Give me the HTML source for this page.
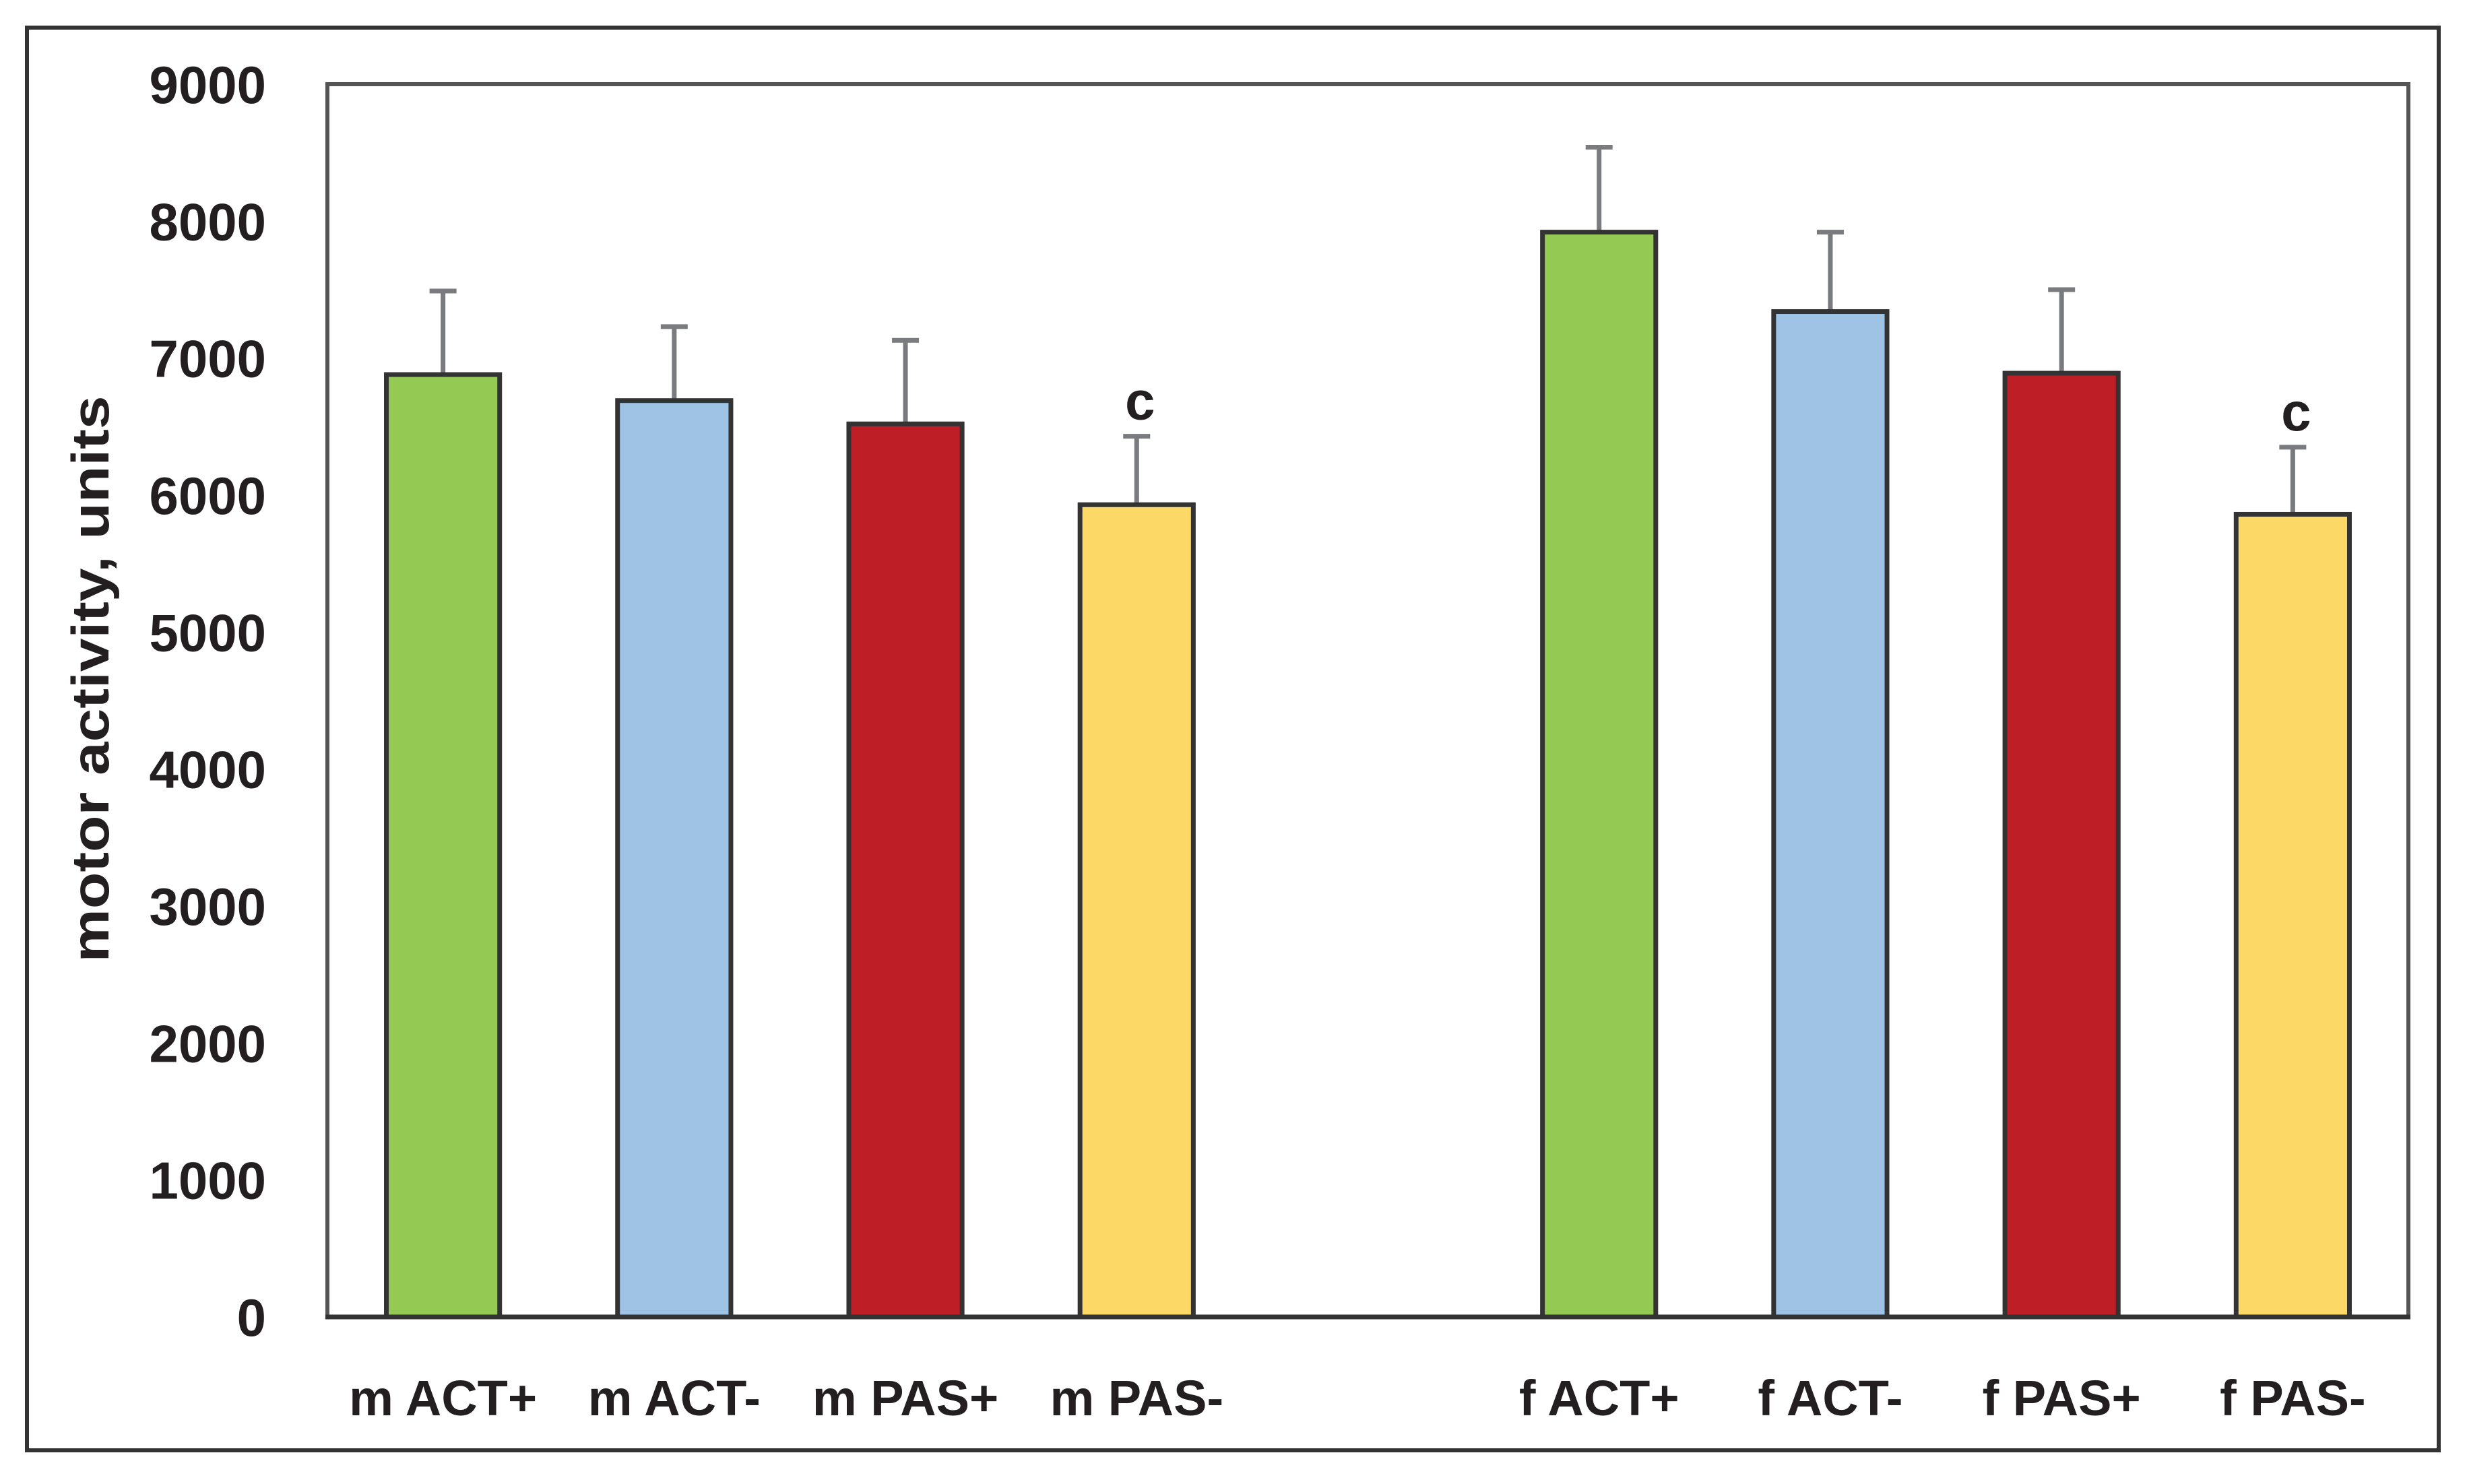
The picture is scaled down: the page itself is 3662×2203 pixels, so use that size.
<!DOCTYPE html>
<html><head><meta charset="utf-8"><style>
html,body{margin:0;padding:0;background:#fff;}
svg{display:block;font-family:"Liberation Sans",sans-serif;font-weight:bold;}
</style></head><body>
<svg id="chart" width="3662" height="2203" viewBox="0 0 3662 2203" xmlns="http://www.w3.org/2000/svg">
<rect x="40" y="41" width="3580" height="2112" fill="#fff" stroke="#333" stroke-width="6"/>
<rect x="486" y="125" width="3089" height="1830" fill="#fff" stroke="#555" stroke-width="6"/>
<g id="bars"></g>
<line x1="483" y1="1955" x2="3578" y2="1955" stroke="#333" stroke-width="7"/>
<g id="yticks"></g>
<g id="xlabels"></g>
<text transform="translate(161,1008) rotate(-90)" text-anchor="middle" font-size="78" fill="#231f20" textLength="841" lengthAdjust="spacingAndGlyphs">motor activity, units</text>
</svg>
<script>
const categories = ["m ACT+","m ACT-","m PAS+","m PAS-","","f ACT+","f ACT-","f PAS+","f PAS-"];
const values = [6880,6690,6520,5930,null,7920,7340,6890,5860];
const errTops = [7490,7230,7130,6430,null,8540,7920,7500,6350];
const sigMarks = ["","","","c","","","","","c"];
const colors = ["#94c954","#9fc3e5","#be1e26","#fcd867",null,"#94c954","#9fc3e5","#be1e26","#fcd867"];
const yTicks = [0,1000,2000,3000,4000,5000,6000,7000,8000,9000];

const NS="http://www.w3.org/2000/svg";
const X0=486,X1=3575,Y0=1955,Y1=125,YMAX=9000;
const slot=(X1-X0)/categories.length;
const y=v=>Y0-(v/YMAX)*(Y0-Y1);
const xc=i=>X0+(i+0.5)*slot;
const bw=slot*0.49;
function mk(t,a,p){const e=document.createElementNS(NS,t);for(const k in a)e.setAttribute(k,a[k]);p.appendChild(e);return e;}
const gb=document.getElementById('bars');
categories.forEach((c,i)=>{
  if(values[i]==null)return;
  const cx=xc(i);
  const l=mk('line',{x1:cx,y1:y(values[i]),x2:cx,y2:y(errTops[i]),stroke:'#7a7b7f','stroke-width':7},gb);
  
  
  const cap=mk('line',{x1:cx-20,y1:y(errTops[i]),x2:cx+20,y2:y(errTops[i]),stroke:'#7a7b7f','stroke-width':7},gb);
  
  
  const r=mk('rect',{x:cx-bw/2,y:y(values[i]),width:bw,height:Y0-y(values[i]),fill:colors[i],stroke:'#333','stroke-width':7},gb);
  
  
  if(sigMarks[i]){
    const t=mk('text',{x:cx+5,y:y(errTops[i])-25,'text-anchor':'middle','font-size':80,fill:'#231f20'},gb);
    t.textContent=sigMarks[i];
    
    
  }
});
const gy=document.getElementById('yticks');
yTicks.forEach(v=>{
  const t=mk('text',{x:395,y:y(v)+28,'text-anchor':'end','font-size':78,fill:'#231f20'},gy);
  t.textContent=v;
  
  
});
const gx=document.getElementById('xlabels');
categories.forEach((c,i)=>{
  if(!c)return;
  const t=mk('text',{x:xc(i),y:2101,'text-anchor':'middle','font-size':74,fill:'#231f20'},gx);
  t.textContent=c;
  
  
});
</script>
</body></html>
